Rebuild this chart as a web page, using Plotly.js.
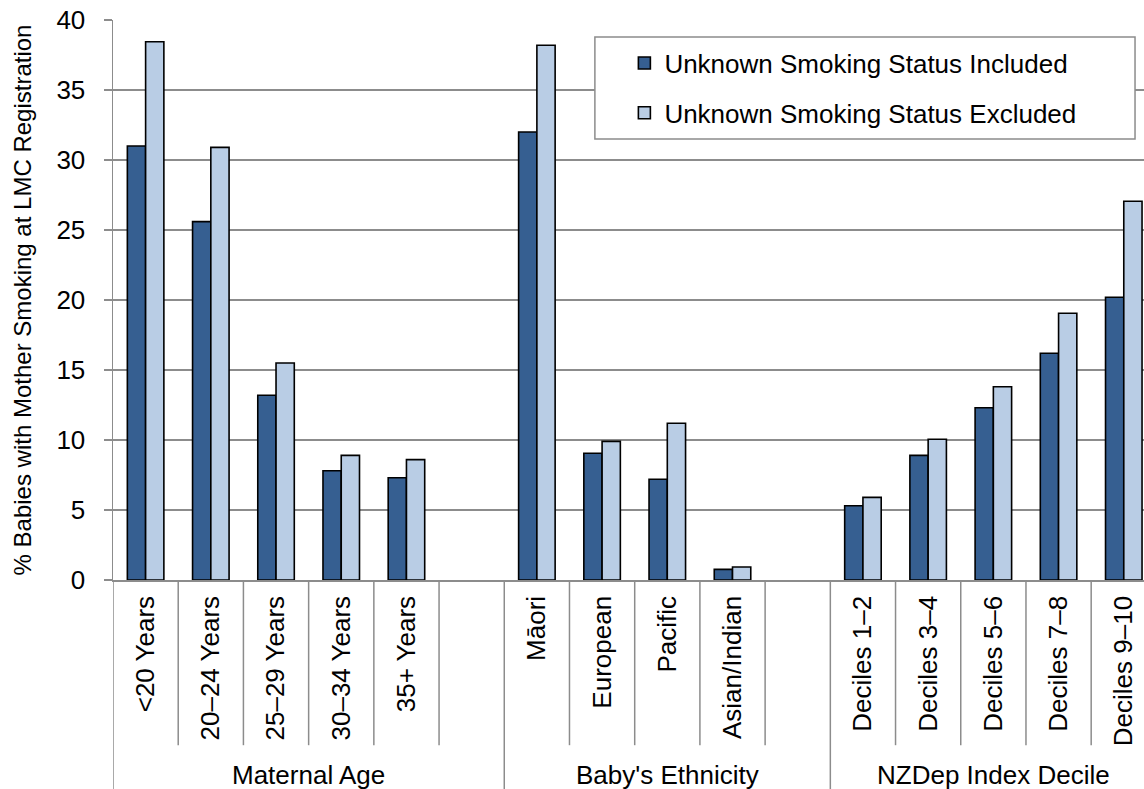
<!DOCTYPE html>
<html>
<head>
<meta charset="utf-8">
<script src="https://cdn.plot.ly/plotly-3.0.1.min.js"></script>
<style>
  html, body { margin: 0; padding: 0; background: #fff; }
  #chart { width: 1144px; height: 789px; }
</style>
</head>
<body>
<div id="chart"></div>
<script>
// ---- Data ----
const tickLabels = ['<20 Years', '20–24 Years', '25–29 Years', '30–34 Years', '35+ Years', '',
                    'Māori', 'European', 'Pacific', 'Asian/Indian', '',
                    'Deciles 1–2', 'Deciles 3–4', 'Deciles 5–6', 'Deciles 7–8', 'Deciles 9–10'];
const groupNames = ['Maternal Age', "Baby's Ethnicity", 'NZDep Index Decile'];
const groupSizes = [6, 5, 5];
const included = [31.0, 25.6, 13.2, 7.8, 7.3, null, 32.0, 9.05, 7.2, 0.76, null, 5.3, 8.9, 12.3, 16.2, 20.2];
const excluded = [38.45, 30.9, 15.5, 8.9, 8.6, null, 38.2, 9.9, 11.2, 0.93, null, 5.9, 10.05, 13.8, 19.05, 27.05];
const seriesNames = ['Unknown Smoking Status Included', 'Unknown Smoking Status Excluded'];

// ---- Build ----
const xKeys = tickLabels.map((t, i) => t || ('gap' + i));
const FONT = 'Liberation Sans, Arial, sans-serif';
const GRAY = '#8c8c8c';

const traces = [
  { type: 'bar', name: seriesNames[0], x: xKeys, y: included, legendgroup: 'a',
    marker: { color: '#365F91', line: { color: '#000', width: 1.6 } }, hoverinfo: 'y' },
  { type: 'bar', name: seriesNames[1], x: xKeys, y: excluded, legendgroup: 'b',
    marker: { color: '#B9CDE5', line: { color: '#000', width: 1.6 } }, hoverinfo: 'y' }
];

// boundary lines under the category axis
const shapes = [];
const groupStarts = [];
let acc = 0;
groupSizes.forEach(s => { groupStarts.push(acc); acc += s; });
for (let i = 0; i <= xKeys.length; i++) {
  const isGroup = groupStarts.includes(i) || i === xKeys.length;
  shapes.push({ type: 'line', xref: 'x', yref: 'paper', x0: i - 0.5, x1: i - 0.5,
    y0: 0, y1: isGroup ? -0.4 : -0.295, line: { color: GRAY, width: 1.5 } });
}
// legend frame
shapes.push({ type: 'rect', xref: 'paper', yref: 'paper', x0: 0.4674, x1: 0.9913, y0: 0.7875, y1: 0.9696,
  fillcolor: '#fff', line: { color: GRAY, width: 1.5 }, layer: 'above' });

const annotations = groupNames.map((g, k) => ({
  text: g, xref: 'x', yref: 'paper', x: groupStarts[k] + (groupSizes[k] - 1) / 2,
  y: -0.348, yanchor: 'middle', xanchor: 'center', showarrow: false,
  font: { family: FONT, size: 26, color: '#000' }
}));

const layout = {
  width: 1144, height: 789,
  margin: { l: 113, r: 0, t: 20, b: 209, pad: 0 },
  paper_bgcolor: '#fff', plot_bgcolor: '#fff',
  font: { family: FONT, size: 26, color: '#000' },
  barmode: 'group', bargap: 0.44, bargroupgap: 0,
  showlegend: true,
  legend: { x: 0.496, y: 0.965, xanchor: 'left', yanchor: 'top', bgcolor: 'rgba(0,0,0,0)',
            borderwidth: 0, font: { family: FONT, size: 26, color: '#000' },
            traceorder: 'grouped', tracegroupgap: 13 },
  xaxis: {
    type: 'category', categoryorder: 'array', categoryarray: xKeys,
    tickmode: 'array', tickvals: xKeys, ticktext: tickLabels,
    range: [-0.5, 15.31], autorange: false, automargin: false,
    tickangle: -90, ticks: '', showgrid: false, zeroline: false,
    showline: true, linecolor: GRAY, linewidth: 1.5,
    tickfont: { family: FONT, size: 26, color: '#000' }, ticklabelstandoff: 4
  },
  yaxis: {
    range: [0, 40], autorange: false, automargin: false, tick0: 0, dtick: 5,
    showgrid: true, gridcolor: GRAY, gridwidth: 1.5, zeroline: false,
    showline: true, linecolor: GRAY, linewidth: 1.5,
    ticks: 'outside', ticklen: 8, tickwidth: 1.5, tickcolor: GRAY,
    tickfont: { family: FONT, size: 26, color: '#000' }, ticklabelstandoff: 13,
    title: { text: '% Babies with Mother Smoking at LMC Registration',
             font: { family: FONT, size: 24, color: '#000' }, standoff: 18 }
  },
  shapes: shapes,
  annotations: annotations
};

Plotly.newPlot('chart', traces, layout, { displayModeBar: false, staticPlot: true });
</script>
</body>
</html>
